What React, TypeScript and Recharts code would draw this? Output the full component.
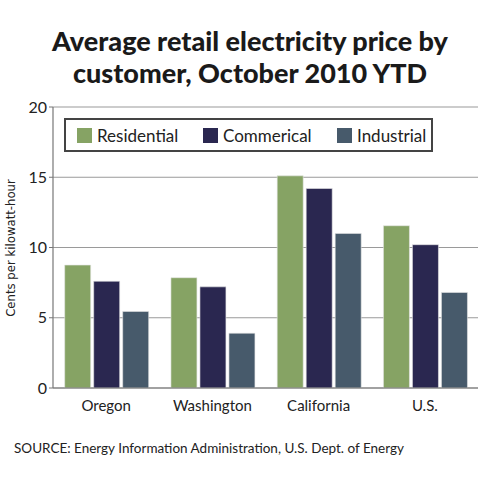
import React from 'react';
import {
  BarChart,
  Bar,
  XAxis,
  YAxis,
  CartesianGrid,
} from 'recharts';

const regions = ['Oregon', 'Washington', 'California', 'U.S.'];
const residential = [8.75, 7.85, 15.1, 11.55];
const commercial = [7.6, 7.2, 14.2, 10.2];
const industrial = [5.45, 3.9, 11.0, 6.8];
const yTicks = [0, 5, 10, 15, 20];

const SERIES = [
  { key: 'Residential', color: '#86a364', x: 11 },
  { key: 'Commerical', color: '#2a2750', x: 137 },
  { key: 'Industrial', color: '#475a6b', x: 271 },
];

const data = regions.map((name, i) => ({
  name,
  Residential: residential[i],
  Commerical: commercial[i],
  Industrial: industrial[i],
}));

const FONT = 'Lato, "Open Sans", sans-serif';

// boxed legend sitting inside the top of the plot
const LegendBox = () => (
  <div
    style={{
      position: 'absolute',
      left: 64,
      top: 118,
      width: 369,
      height: 34,
      border: '2px solid #444',
      background: '#fff',
      boxSizing: 'border-box',
      fontFamily: FONT,
      fontSize: 17,
      color: '#222',
    }}
  >
    {SERIES.map((s) => (
      <div
        key={s.key}
        style={{ position: 'absolute', left: s.x, top: 0, height: 30, display: 'flex', alignItems: 'center' }}
      >
        <span style={{ width: 15, height: 15, background: s.color, marginRight: 5, display: 'inline-block' }} />
        <span>{s.key}</span>
      </div>
    ))}
  </div>
);

export default function App() {
  return (
    <div style={{ position: 'absolute', left: 0, top: 0, width: 500, height: 491, background: '#fff' }}>
      <div
        style={{
          position: 'absolute',
          top: 25,
          left: 0,
          width: 500,
          textAlign: 'center',
          fontFamily: FONT,
          fontWeight: 900,
          fontSize: 27,
          lineHeight: '32px',
          color: '#1a1a1a',
        }}
      >
        Average retail electricity price by
        <br />
        customer, October 2010 YTD
      </div>

      <BarChart
        width={500}
        height={491}
        data={data}
        margin={{ top: 107, right: 22, left: 0, bottom: 73 }}
        barCategoryGap="11%"
        barGap={3}
      >
        <CartesianGrid vertical={false} stroke="#9a9a9a" strokeWidth={1.2} />
        <XAxis
          dataKey="name"
          height={30}
          axisLine={{ stroke: '#777', strokeWidth: 1.2 }}
          tickLine={false}
          tick={{ fontFamily: FONT, fontSize: 15, fill: '#222' }}
          tickMargin={6}
        />
        <YAxis
          width={53}
          domain={[0, 20]}
          ticks={yTicks}
          axisLine={{ stroke: '#777', strokeWidth: 1.2 }}
          tickLine={{ stroke: '#777' }}
          tickSize={4}
          tick={{ fontFamily: FONT, fontSize: 16, fill: '#222' }}
        />
        <YAxis
          yAxisId="frame"
          orientation="right"
          width={0}
          domain={[0, 20]}
          tick={false}
          tickLine={false}
          axisLine={{ stroke: '#777', strokeWidth: 1.2 }}
        />
        {SERIES.map((s) => (
          <Bar
            key={s.key}
            dataKey={s.key}
            fill={s.color}
            stroke="#e6e6e6"
            strokeWidth={0.6}
            isAnimationActive={false}
          />
        ))}
      </BarChart>

      <LegendBox />

      <div
        style={{
          position: 'absolute',
          left: 10,
          top: 248,
          transform: 'translate(-50%, -50%) rotate(-90deg)',
          whiteSpace: 'nowrap',
          fontFamily: '"Liberation Sans Narrow", "DejaVu Sans Condensed", sans-serif',
          fontSize: 13,
          color: '#222',
        }}
      >
        Cents per kilowatt-hour
      </div>

      <div
        style={{
          position: 'absolute',
          left: 14,
          top: 440,
          fontFamily: FONT,
          fontSize: 13.5,
          color: '#222',
          whiteSpace: 'nowrap',
        }}
      >
        SOURCE: Energy Information Administration, U.S. Dept. of Energy
      </div>
    </div>
  );
}
